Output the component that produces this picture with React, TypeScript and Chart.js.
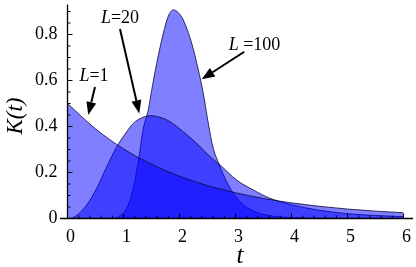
import React, { useEffect, useRef } from "react";
import { Chart, registerables } from "chart.js";

Chart.register(...registerables);

// ---- data ----
const tL1 = [0, 0.5, 1, 1.5, 2, 2.5, 3, 3.5, 4, 4.5, 5, 5.5, 6];
const kL1 = [0.5, 0.39, 0.303, 0.236, 0.184, 0.143, 0.112, 0.087, 0.068, 0.053, 0.041, 0.032, 0.025];

const tL20 = [0, 0.1, 0.343, 0.521, 0.7, 0.879, 1.057, 1.16, 1.264, 1.473, 1.65, 1.83, 2.068, 2.307, 2.545, 2.723, 3.021, 3.318, 3.616, 4.0, 4.5, 5.0, 5.5, 6.0];
const kL20 = [0, 0.004, 0.059, 0.131, 0.225, 0.312, 0.377, 0.41, 0.43, 0.447, 0.44, 0.421, 0.377, 0.327, 0.269, 0.233, 0.167, 0.124, 0.088, 0.06, 0.036, 0.021, 0.013, 0.008];

const tL100 = [0, 0.8, 0.93, 1.057, 1.175, 1.264, 1.354, 1.443, 1.504, 1.593, 1.711, 1.8, 1.889, 1.98, 2.068, 2.218, 2.336, 2.425, 2.496, 2.593, 2.711, 2.843, 2.961, 3.139, 3.379, 3.616, 4.0, 4.5, 5.0, 6.0];
const kL100 = [0, 0, 0.01, 0.044, 0.131, 0.247, 0.392, 0.472, 0.559, 0.675, 0.805, 0.88, 0.907, 0.895, 0.863, 0.762, 0.646, 0.544, 0.44, 0.315, 0.233, 0.16, 0.11, 0.059, 0.027, 0.012, 0.004, 0.001, 0, 0];

const xTickValues = [0, 1, 2, 3, 4, 5, 6];
const yTickValues = [0, 0.2, 0.4, 0.6, 0.8];

const xMin = 0;
const xMax = 6;
const yMin = 0;
const yMax = 0.93;

// annotation labels (positions in data units)
const annLabels = ["L=1", "L=20", "L =100"];
const annItalic = ["L", "L", "L"];
const annRest = ["=1", "=20", " =100"];
const annTextX = [0.473, 0.9375, 3.34];
const annTextY = [0.598, 0.85, 0.733];
const annFromX = [0.491, 0.9375, 3.157];
const annFromY = [0.572, 0.824, 0.725];
const annTipX = [0.371, 1.282, 2.396];
const annTipY = [0.45, 0.457, 0.605];

const FONT = "'Liberation Serif', 'Times New Roman', serif";
const FILL = "rgba(0, 0, 255, 0.5)";
const LINE = "rgba(10, 10, 60, 0.9)";

function toPts(ts: number[], ks: number[]) {
  return ts.map((x, i) => ({ x, y: ks[i] }));
}

const decoPlugin = {
  id: "deco",
  afterDraw(chart: any) {
    const ctx = chart.ctx;
    const xs = chart.scales.x;
    const ys = chart.scales.y;
    const left = xs.getPixelForValue(xMin);
    const bottom = ys.getPixelForValue(yMin);
    ctx.save();
    ctx.strokeStyle = "#000";
    ctx.fillStyle = "#000";
    ctx.lineWidth = 1.3;
    // axis lines
    ctx.beginPath();
    ctx.moveTo(left, ys.getPixelForValue(yMax));
    ctx.lineTo(left, bottom);
    ctx.moveTo(left - 7.5, bottom);
    ctx.lineTo(xs.getPixelForValue(xMax) + 9.5, bottom);
    ctx.stroke();
    // x ticks (inside)
    ctx.lineWidth = 1;
    ctx.beginPath();
    for (let i = 0; i <= 30; i++) {
      const px = xs.getPixelForValue(i / 5);
      const len = i % 5 === 0 ? 5 : 3;
      ctx.moveTo(px, bottom);
      ctx.lineTo(px, bottom - len);
    }
    // y ticks (inside)
    for (let i = 0; i <= 18; i++) {
      const py = ys.getPixelForValue(i * 0.05);
      const len = i % 4 === 0 ? 5 : 3;
      ctx.moveTo(left, py);
      ctx.lineTo(left + len, py);
    }
    ctx.stroke();

    // axis titles
    ctx.font = `italic 23px ${FONT}`;
    ctx.textAlign = "center";
    ctx.textBaseline = "alphabetic";
    ctx.save();
    ctx.translate(22, 116);
    ctx.rotate(-Math.PI / 2);
    ctx.fillText("K(t)", 0, 0);
    ctx.restore();
    ctx.font = `italic 25px ${FONT}`;
    ctx.fillText("t", 240, 262.5);

    // annotations
    for (let i = 0; i < annLabels.length; i++) {
      const tx = xs.getPixelForValue(annTextX[i]);
      const ty = ys.getPixelForValue(annTextY[i]);
      ctx.font = `italic 18px ${FONT}`;
      const w1 = ctx.measureText(annItalic[i]).width;
      ctx.font = `18px ${FONT}`;
      const w2 = ctx.measureText(annRest[i]).width;
      const x0 = tx - (w1 + w2) / 2;
      ctx.textAlign = "left";
      ctx.font = `italic 18px ${FONT}`;
      ctx.fillText(annItalic[i], x0, ty);
      ctx.font = `18px ${FONT}`;
      ctx.fillText(annRest[i], x0 + w1, ty);

      const fx = xs.getPixelForValue(annFromX[i]);
      const fy = ys.getPixelForValue(annFromY[i]);
      const ex = xs.getPixelForValue(annTipX[i]);
      const ey = ys.getPixelForValue(annTipY[i]);
      const ang = Math.atan2(ey - fy, ex - fx);
      const headLen = 13;
      const headHalf = 5;
      const bx = ex - headLen * Math.cos(ang);
      const by = ey - headLen * Math.sin(ang);
      ctx.lineWidth = 2;
      ctx.beginPath();
      ctx.moveTo(fx, fy);
      ctx.lineTo(bx, by);
      ctx.stroke();
      ctx.beginPath();
      ctx.moveTo(ex, ey);
      ctx.lineTo(bx + headHalf * Math.sin(ang), by - headHalf * Math.cos(ang));
      ctx.lineTo(bx - headHalf * Math.sin(ang), by + headHalf * Math.cos(ang));
      ctx.closePath();
      ctx.fill();
    }
    ctx.restore();
  },
};

export default function App() {
  const ref = useRef<HTMLCanvasElement>(null);
  useEffect(() => {
    if (!ref.current) return;
    const ds = (label: string, ts: number[], ks: number[]) => ({
      label,
      data: toPts(ts, ks),
      fill: "origin",
      backgroundColor: FILL,
      borderColor: LINE,
      borderWidth: 0.9,
      pointRadius: 0,
      cubicInterpolationMode: "monotone" as const,
    });
    const chart = new Chart(ref.current, {
      type: "line",
      data: {
        datasets: [ds("L=1", tL1, kL1), ds("L=20", tL20, kL20), ds("L=100", tL100, kL100)],
      },
      options: {
        animation: false,
        responsive: false,
        devicePixelRatio: 1,
        layout: { padding: { left: 0, right: 12.5, top: 4.6, bottom: 0 } },
        plugins: { legend: { display: false }, tooltip: { enabled: false } },
        scales: {
          x: {
            type: "linear",
            min: xMin,
            max: xMax,
            grid: { display: false, drawTicks: false },
            border: { display: false },
            afterBuildTicks: (s: any) => {
              s.ticks = xTickValues.map((v) => ({ value: v }));
            },
            afterFit: (s: any) => {
              s.height = 48.5;
              s.paddingLeft = 0;
              s.paddingRight = 0;
            },
            ticks: {
              color: "#000",
              padding: 8,
              labelOffset: 3,
              font: { family: FONT, size: 18 },
              maxRotation: 0,
              callback: (v: any) => String(v),
            },
          },
          y: {
            type: "linear",
            min: yMin,
            max: yMax,
            grid: { display: false, drawTicks: false },
            border: { display: false },
            afterBuildTicks: (s: any) => {
              s.ticks = yTickValues.map((v) => ({ value: v }));
            },
            afterFit: (s: any) => {
              s.width = 67.5;
              s.paddingTop = 0;
              s.paddingBottom = 0;
            },
            ticks: {
              color: "#000",
              padding: 10,
              font: { family: FONT, size: 18 },
              callback: (v: any) => String(Math.round(v * 10) / 10),
            },
          },
        },
      },
      plugins: [decoPlugin],
    });
    return () => chart.destroy();
  }, []);
  return (
    <div style={{ position: "absolute", left: 0, top: 0, width: 416, height: 267, background: "#fff" }}>
      <canvas ref={ref} width={416} height={267} style={{ width: 416, height: 267 }} />
    </div>
  );
}
